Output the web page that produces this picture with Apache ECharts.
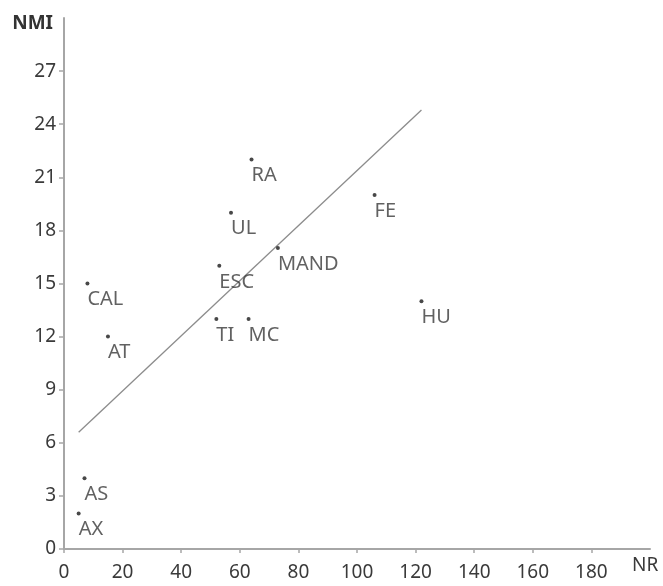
<!DOCTYPE html>
<html>
<head>
<meta charset="utf-8">
<script src="https://cdn.jsdelivr.net/npm/echarts@6/dist/echarts.min.js"></script>
<style>html,body{margin:0;padding:0;background:#fff;}#c{width:663px;height:586px;}</style>
</head>
<body>
<div id="c"></div>
<script>
const names = ['AX','AS','CAL','AT','ESC','TI','MC','UL','RA','MAND','FE','HU'];
const nrValues = [5, 7, 8, 15, 53, 52, 63, 57, 64, 73, 106, 122];
const nmiValues = [2, 4, 15, 12, 16, 13, 13, 19, 22, 17, 20, 14];
const trendX = [5, 122];
const trendY = [6.6, 24.8];
const xTicks = [0, 20, 40, 60, 80, 100, 120, 140, 160, 180];
const yTicks = [0, 3, 6, 9, 12, 15, 18, 21, 24, 27];

const FONT = 'Noto Sans';
const TXT = '#3a3a3a';
const points = names.map((n, i) => ({ name: n, value: [nrValues[i], nmiValues[i]] }));
const trend = trendX.map((x, i) => [x, trendY[i]]);

const chart = echarts.init(document.getElementById('c'), null, { renderer: 'canvas' });
chart.setOption({
  animation: false,
  backgroundColor: '#fff',
  textStyle: { fontFamily: FONT },
  grid: { left: 64, top: 18, right: 13, bottom: 37, containLabel: false },
  xAxis: {
    type: 'value', min: 0, max: 200, interval: 20,
    name: 'NR', nameLocation: 'end', nameGap: -18,
    nameTextStyle: { color: TXT, fontSize: 19, fontFamily: FONT, verticalAlign: 'top', padding: [7, 0, 0, 0] },
    axisLine: { show: true, lineStyle: { color: '#a6a6a6', width: 2 } },
    axisTick: { show: true, length: 4, lineStyle: { color: '#a6a6a6', width: 1.5 }, customValues: xTicks },
    axisLabel: { color: TXT, fontSize: 19, fontFamily: FONT, margin: 14, customValues: xTicks },
    splitLine: { show: false }
  },
  yAxis: {
    type: 'value', min: 0, max: 30, interval: 3,
    name: 'NMI', nameLocation: 'end', nameGap: -15,
    nameTextStyle: { color: '#333', fontSize: 19, fontFamily: FONT, fontWeight: 'bold', align: 'right', verticalAlign: 'bottom', padding: [0, 11, 0, 0] },
    axisLine: { show: true, lineStyle: { color: '#a6a6a6', width: 2 } },
    axisTick: { show: true, length: 5, lineStyle: { color: '#a6a6a6', width: 1.5 }, customValues: yTicks },
    axisLabel: { color: TXT, fontSize: 19, fontFamily: FONT, margin: 8, customValues: yTicks },
    splitLine: { show: false }
  },
  series: [
    {
      type: 'line', data: trend, symbol: 'none', silent: true,
      lineStyle: { color: '#8c8c8c', width: 1.3 }, z: 1
    },
    {
      type: 'scatter', data: points, symbol: 'circle', symbolSize: 4,
      itemStyle: { color: '#1a1a1a' }, z: 3,
      label: {
        show: true, formatter: '{b}', position: 'bottom', align: 'left', distance: 4,
        offset: [0, 0], color: TXT, fontSize: 20, fontFamily: FONT
      }
    }
  ]
});
</script>
</body>
</html>
